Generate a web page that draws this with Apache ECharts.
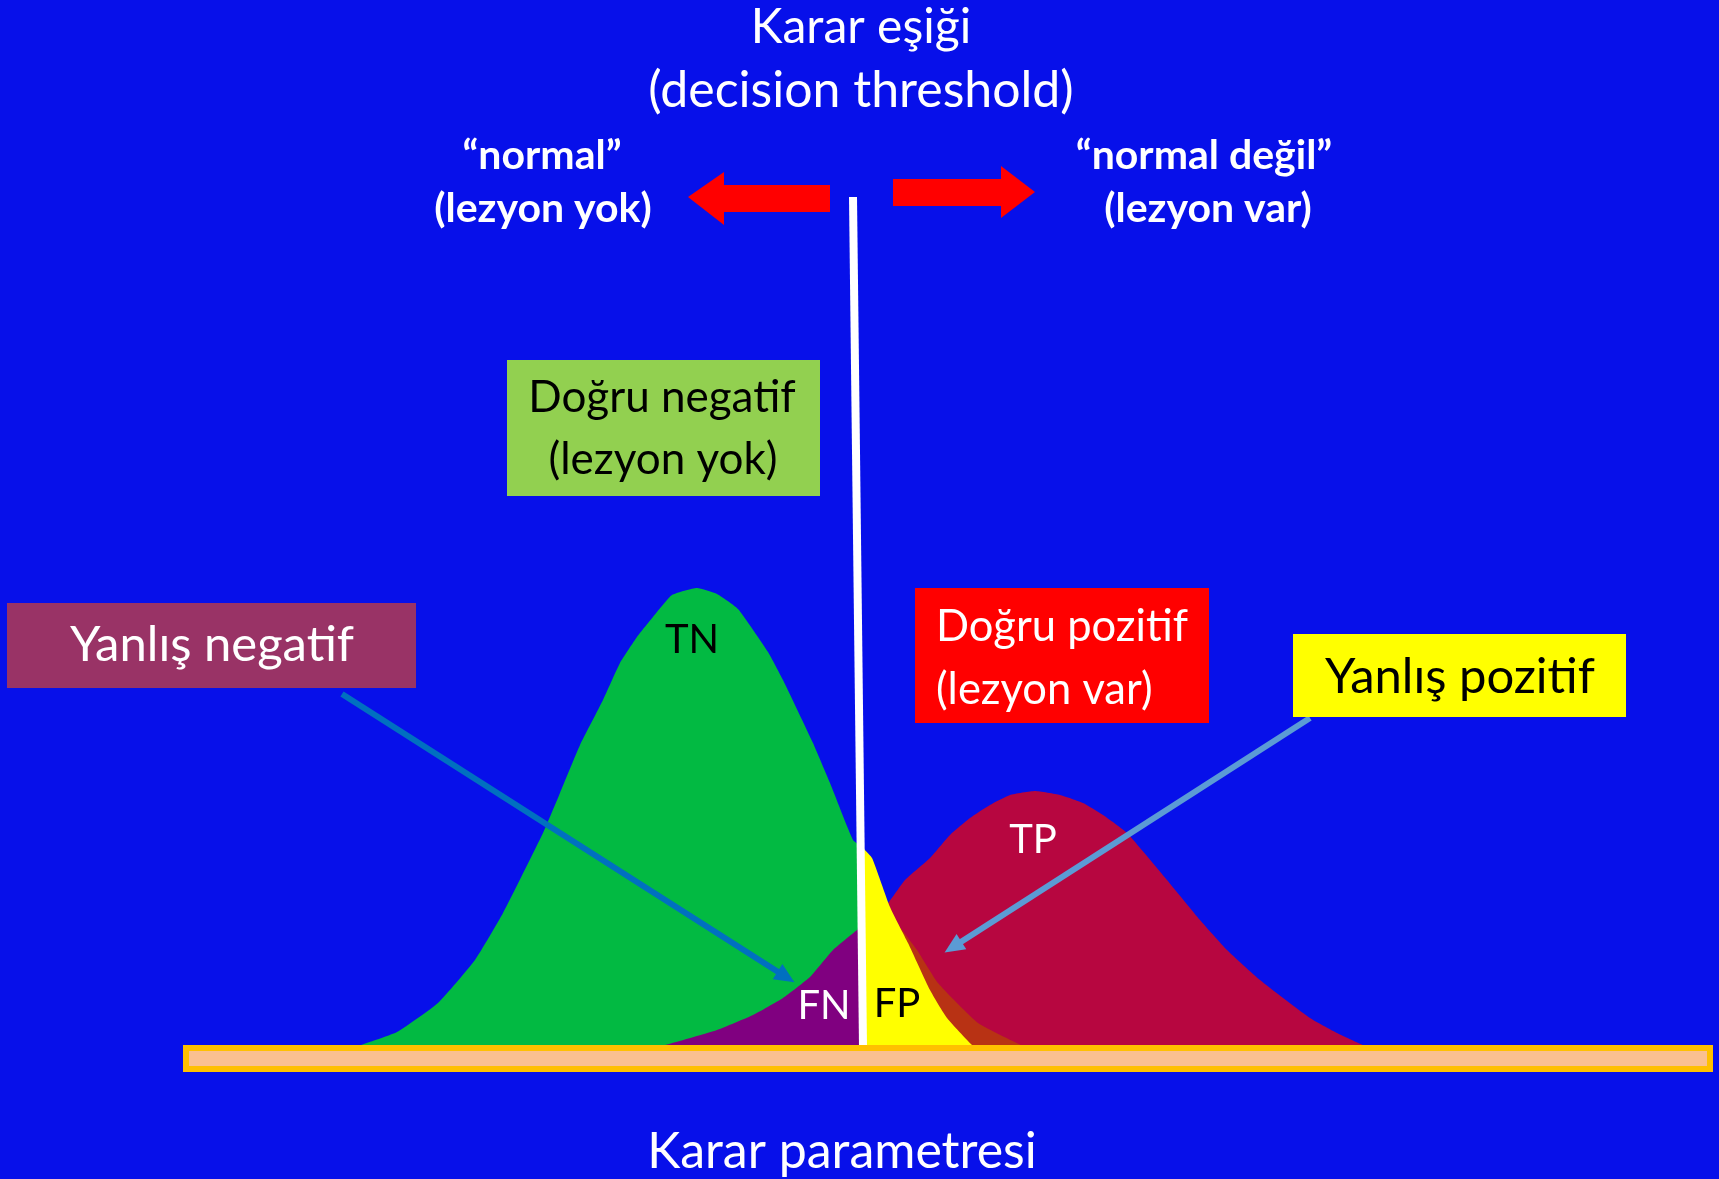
<!DOCTYPE html>
<html>
<head>
<meta charset="utf-8">
<title>Karar eşiği</title>
<script src="https://cdn.jsdelivr.net/npm/echarts@6.0.0/dist/echarts.min.js"></script>
<style>
  html, body { margin: 0; padding: 0; background: #0710ea; }
  #chart { width: 1719px; height: 1179px; }
</style>
</head>
<body>
<div id="chart"></div>
<script>
// karar parametresi (x) ve yoğunluk (y) değerleri
const threshold = 67.8;

// sağlıklı dağılım, eşiğin solu (TN)
const tnCurve = [
  [17.5, 0], [21.4, 1.4], [25.5, 4.3], [29.2, 8.6], [32.0, 13.3], [36.0, 21.3],
  [37.7, 25.3], [39.7, 30.1], [42.0, 34.6], [43.7, 38.3], [45.4, 40.9],
  [47.4, 43.4], [48.9, 45.1], [51.4, 45.8], [53.4, 45.2], [55.5, 43.7],
  [58.5, 39.4], [60.0, 36.6], [63.0, 30.3], [64.7, 26.3], [67.0, 20.6], [67.8, 20.0]
];
// sağlıklı dağılım, eşiğin sağı (FP)
const fpCurve = [
  [67.8, 20.0], [68.9, 18.8], [70.7, 13.9], [72.5, 10.3], [74.7, 5.6],
  [76.4, 2.8], [78.9, 0.1], [79.2, 0]
];
// lezyonlu dağılım, tamamı (TP)
const tpCurve = [
  [47.9, 0], [53.4, 1.6], [57.0, 3.1], [60.0, 4.8], [62.7, 6.9], [65.0, 9.6],
  [67.4, 11.6], [70.5, 14.3], [72.2, 16.6], [74.7, 18.8], [76.7, 21.1],
  [78.7, 22.8], [80.7, 24.1], [82.7, 25.1], [85.2, 25.5], [87.7, 25.1],
  [90.0, 24.3], [92.0, 23.1], [94.4, 21.3], [98.4, 16.6], [101.7, 12.6],
  [104.4, 9.6], [107.7, 6.6], [112.7, 2.8], [115.4, 1.3], [118.2, 0]
];
// lezyonlu dağılım, eşiğin solu (FN)
const fnCurve = [
  [47.9, 0], [53.4, 1.6], [57.0, 3.1], [60.0, 4.8], [62.7, 6.9], [65.0, 9.6],
  [67.4, 11.6], [67.8, 11.9]
];
// FP ile TP kesişim gölgesi
const overlapCurve = [
  [70.5, 14.0], [71.4, 12.3], [73.4, 9.6], [75.5, 6.3], [79.5, 2.3], [84.0, 0]
];
// eşik çizgisi (hafif eğik)
const thresholdLine = [[68.0, 0], [67.0, 84.9]];

const FONT = 'Lato';

function area(name, data, color) {
  return {
    name: name,
    type: 'line',
    data: data,
    showSymbol: false,
    smooth: 0.15,
    lineStyle: { width: 0 },
    areaStyle: { color: color, opacity: 1 },
    silent: true
  };
}

function txt(x, y, text, size, color, opts) {
  return {
    type: 'text',
    x: x,
    y: y,
    z: 100,
    style: Object.assign({
      text: text,
      fill: color,
      font: (opts && opts.bold ? 'bold ' : '') + size + 'px ' + FONT,
      textAlign: 'center',
      textVerticalAlign: 'middle'
    }, opts && opts.style)
  };
}

function box(x, y, w, h, color) {
  return { type: 'rect', z: 90, shape: { x: x, y: y, width: w, height: h }, style: { fill: color } };
}

const chart = echarts.init(document.getElementById('chart'));

chart.setOption({
  animation: false,
  backgroundColor: '#0710ea',
  grid: { left: 183, right: 6, top: 196, bottom: 133 },
  xAxis: { type: 'value', min: 0, max: 153, show: false },
  yAxis: { type: 'value', min: 0, max: 85, show: false },
  series: [
    area('TP', tpCurve, '#b70640'),
    area('TN', tnCurve, '#02ba42'),
    area('FN', fnCurve, '#800080'),
    area('overlap', overlapCurve, '#b83214'),
    area('FP', fpCurve, '#ffff00'),
    {
      name: 'threshold',
      type: 'line',
      data: thresholdLine,
      showSymbol: false,
      silent: true,
      lineStyle: { color: '#ffffff', width: 8 },
      markLine: {
        silent: true,
        symbol: ['none', 'triangle'],
        symbolSize: [18, 20],
        label: { show: false },
        emphasis: { disabled: true },
        data: [
          [{ coord: [15.9, 35.2], lineStyle: { color: '#0070c0', width: 6, type: 'solid' } }, { coord: [60.3, 6.9] }],
          [{ coord: [112.7, 32.8], lineStyle: { color: '#5b9bd5', width: 6, type: 'solid' } }, { coord: [77.0, 9.9] }]
        ]
      }
    }
  ],
  graphic: [
    // taban çubuğu
    { type: 'rect', z: 50, shape: { x: 186, y: 1048, width: 1524, height: 21 },
      style: { fill: '#fac090', stroke: '#ffc000', lineWidth: 6 } },

    // kırmızı oklar
    { type: 'polygon', z: 50,
      shape: { points: [[688, 197], [724, 172], [724, 185], [830, 185], [830, 212], [724, 212], [724, 225]] },
      style: { fill: '#ff0000' } },
    { type: 'polygon', z: 50,
      shape: { points: [[893, 179], [1001, 179], [1001, 166], [1035, 192], [1001, 218], [1001, 206], [893, 206]] },
      style: { fill: '#ff0000' } },

    // başlık
    txt(861, 28, 'Karar eşiği', 48, '#ffffff'),
    txt(861, 91, '(decision threshold)', 50, '#ffffff'),
    txt(542, 156, '“normal”', 41, '#ffffff', { bold: true }),
    txt(543, 209, '(lezyon yok)', 41, '#ffffff', { bold: true }),
    txt(1204, 156, '“normal değil”', 41, '#ffffff', { bold: true }),
    txt(1208, 209, '(lezyon var)', 41, '#ffffff', { bold: true }),

    // kutular
    box(507, 360, 313, 136, '#92d050'),
    txt(662, 398, 'Doğru negatif', 44, '#000000'),
    txt(663, 460, '(lezyon yok)', 44, '#000000'),

    box(7, 603, 409, 85, '#993366'),
    txt(212, 645, 'Yanlış negatif', 49, '#ffffff'),

    box(915, 588, 294, 135, '#ff0000'),
    txt(936, 627, 'Doğru pozitif', 43.5, '#ffffff', { style: { textAlign: 'left' } }),
    txt(936, 690, '(lezyon var)', 43.5, '#ffffff', { style: { textAlign: 'left' } }),

    box(1293, 634, 333, 83, '#ffff00'),
    txt(1460, 677, 'Yanlış pozitif', 49, '#000000'),

    // bölge etiketleri
    txt(692, 640, 'TN', 40, '#000000'),
    txt(824, 1006, 'FN', 40, '#ffffff'),
    txt(897, 1004, 'FP', 40, '#000000'),
    txt(1033, 840, 'TP', 40, '#ffffff'),

    // eksen başlığı
    txt(842, 1152, 'Karar parametresi', 50, '#ffffff')
  ]
});
</script>
</body>
</html>
